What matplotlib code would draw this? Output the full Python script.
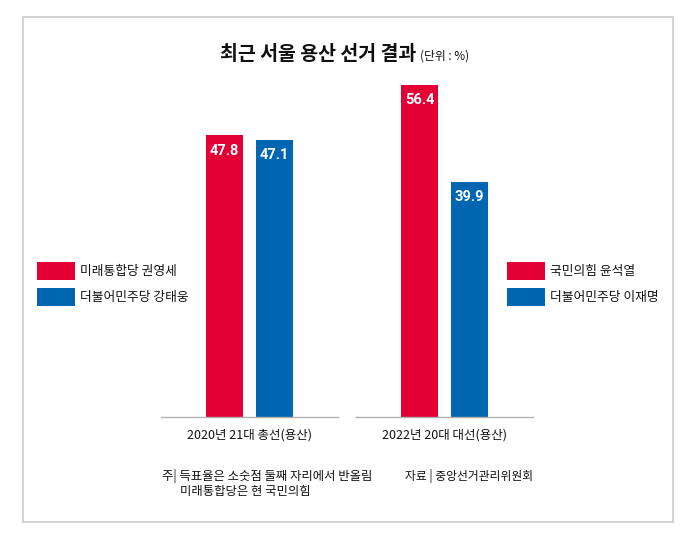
import matplotlib
matplotlib.use("Agg")
import matplotlib.pyplot as plt
from matplotlib.patches import Rectangle

plt.rcParams['font.family'] = ['Noto Sans CJK KR', 'DejaVu Sans']

categories = ["2020년 21대 총선(용산)", "2022년 20대 대선(용산)"]
red_values = [47.8, 56.4]
blue_values = [47.1, 39.9]
red_labels = ["미래통합당 권영세", "국민의힘 윤석열"]
blue_labels = ["더불어민주당 강태웅", "더불어민주당 이재명"]
title = "최근 서울 용산 선거 결과"
unit = "(단위 : %)"
note1 = "주| 득표율은 소숫점 둘째 자리에서 반올림"
note2 = "미래통합당은 현 국민의힘"
source = "자료 | 중앙선거관리위원회"

RED = "#E30035"
BLUE = "#0066B2"
W, H = 700, 540

fig = plt.figure(figsize=(7, 5.4), dpi=100)
fig.patch.set_facecolor("white")

def fx(px):
    return px / W

def fy(py):
    return 1 - py / H

# outer frame
fig.patches.append(Rectangle((fx(23), fy(522)), fx(673) - fx(23), fy(17) - fy(522),
                             transform=fig.transFigure, fill=False,
                             edgecolor="#cccccc", linewidth=1.2))

# axes: x pixels 161..533, baseline y=417, 5.89 px per unit
scale = 5.89
ymax = 60
ax_h = ymax * scale
ax = fig.add_axes([fx(161), fy(417), fx(533) - fx(161), ax_h / H])
ax.set_xlim(-0.4538, 1.4538)
ax.set_ylim(0, ymax)
ax.axis("off")

x = [0, 1]
off = 25 / 195
bw = 37 / 195
ax.bar([xi - off for xi in x], red_values, width=bw, color=RED, zorder=2)
ax.bar([xi + off for xi in x], blue_values, width=bw, color=BLUE, zorder=2)
for xi in x:
    ax.plot([xi - 0.4538, xi + 0.4538], [0, 0], color="#b0b0b0", lw=1.0,
            clip_on=False, zorder=3)

for xi, v in zip(x, red_values):
    ax.text(xi - off, v - 2.6, f"{v}", ha="center", va="center", color="white",
            fontsize=10.5, fontweight="bold", family=["Roboto", "DejaVu Sans"])
for xi, v in zip(x, blue_values):
    ax.text(xi + off, v - 2.6, f"{v}", ha="center", va="center", color="white",
            fontsize=10.5, fontweight="bold", family=["Roboto", "DejaVu Sans"])

for xi, c in zip(x, categories):
    ax.text(xi, -3.0, c, ha="center", va="center", fontsize=9, color="#111111")

# title
fig.text(fx(220), fy(55), title, ha="left", va="center", fontsize=14,
         fontweight="bold", color="#111111")
fig.text(fx(420), fy(56), unit, ha="left", va="center", fontsize=8.5,
         color="#111111")

# legends
def legend(x0, labels):
    for i, (lab, col) in enumerate(zip(labels, [RED, BLUE])):
        y0 = 262 + i * 26
        fig.patches.append(Rectangle((fx(x0), fy(y0 + 18)), fx(38), 18 / H,
                                     transform=fig.transFigure,
                                     facecolor=col, edgecolor="none"))
        fig.text(fx(x0 + 43), fy(y0 + 9), lab, ha="left", va="center",
                 fontsize=9.2, color="#111111")

legend(37, [red_labels[0], blue_labels[0]])
legend(507, [red_labels[1], blue_labels[1]])

# notes
fig.text(fx(162), fy(476), note1, ha="left", va="center", fontsize=8.9, color="#111111")
fig.text(fx(180), fy(491), note2, ha="left", va="center", fontsize=8.9, color="#111111")
fig.text(fx(405), fy(476), source, ha="left", va="center", fontsize=8.5, color="#111111")

fig.savefig("out.png", dpi=100, facecolor="white")
